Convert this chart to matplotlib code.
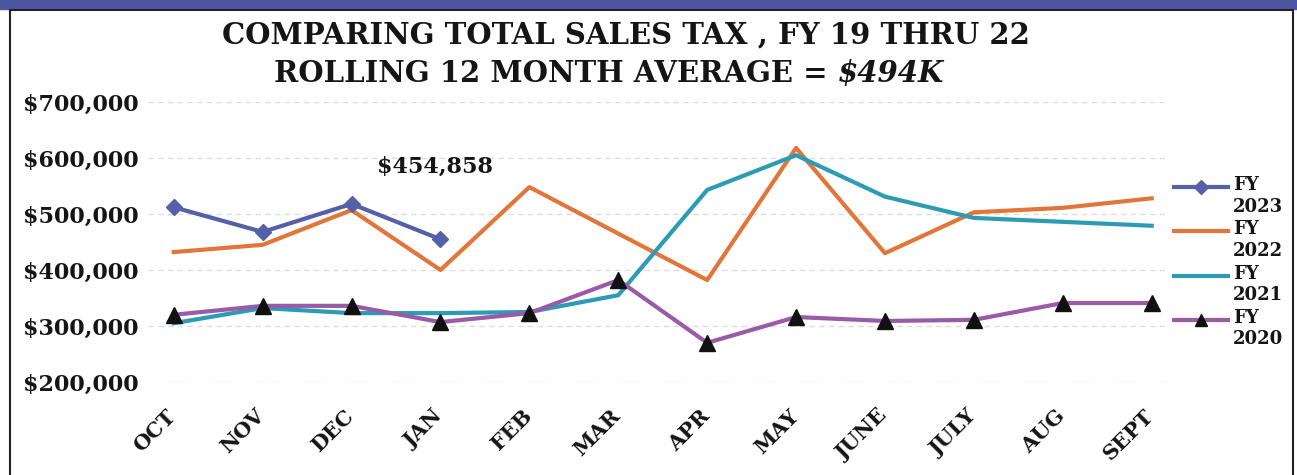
import matplotlib
matplotlib.use("Agg")
import matplotlib.pyplot as plt
import matplotlib.lines as mlines
import matplotlib.patches as mpatches
import matplotlib.transforms as mtransforms
from matplotlib.ticker import FuncFormatter

months = ['OCT', 'NOV', 'DEC', 'JAN', 'FEB', 'MAR', 'APR', 'MAY',
          'JUNE', 'JULY', 'AUG', 'SEPT']

fy2023 = [512000, 468000, 518000, 454858]
fy2022 = [432000, 445000, 507000, 400000, 548000, 465000, 382000, 618000,
          430000, 503000, 511000, 528000]
fy2021 = [305000, 332000, 323000, 323000, 325000, 355000, 543000, 605000,
          531000, 493000, 486000, 479000]
fy2020 = [320000, 336000, 336000, 307000, 323000, 382000, 270000, 316000,
          309000, 311000, 341000, 341000]

series_names = ['FY\n2023', 'FY\n2022', 'FY\n2021', 'FY\n2020']

c23 = '#5460a8'
c22 = '#e2763a'
c21 = '#2b9cb3'
c20 = '#9b5aa8'
ink = '#151515'

W, H = 1297, 475
fig = plt.figure(figsize=(W / 100, H / 100), dpi=100)

def fp(x, y):
    # pixel position -> figure fraction
    return x / W, 1 - y / H

# scanned page frame
fig.patches.append(mpatches.Rectangle(fp(0, 9), 1, 9 / H, transform=fig.transFigure,
                                      color='#4c55a0', zorder=0))
fig.patches.append(mpatches.Rectangle(fp(10, 560), 1283 / W, 550 / H,
                                      transform=fig.transFigure, fill=False,
                                      edgecolor='#222222', lw=1.5, zorder=1))

ax = fig.add_axes([148 / W, 1 - 382 / H, (1165 - 148) / W, 280 / H])
x = list(range(len(months)))

ax.plot(x, fy2022, color=c22, lw=3, zorder=3)
ax.plot(x, fy2021, color=c21, lw=3, zorder=3)
ax.plot(x, fy2020, color=c20, lw=3, zorder=4, marker='^', ms=11,
        mfc='#111111', mec='#111111')
ax.plot(x[:len(fy2023)], fy2023, color=c23, lw=3, zorder=5, marker='D', ms=8,
        mfc=c23, mec=c23)

ax.annotate('$454,858', xy=(3, fy2023[3]), xytext=(-4, 52), textcoords='offset points',
            ha='center', va='center', fontsize=16, fontweight='bold',
            family='DejaVu Serif', color=ink)

ax.set_ylim(200000, 700000)
ax.set_yticks(range(200000, 700001, 100000))
ax.yaxis.set_major_formatter(FuncFormatter(lambda v, p: '${:,.0f}'.format(v)))
ax.set_xlim(-0.29, 11.15)
ax.set_xticks(x)
ax.set_xticklabels(months)

for sp in ax.spines.values():
    sp.set_visible(False)
ax.tick_params(length=0)
ax.tick_params(axis='y', pad=7)
ax.tick_params(axis='x', pad=17)
ax.grid(axis='y', color='#dddddd', ls=(0, (4, 3)), lw=1)

for lab in ax.get_yticklabels():
    lab.set_family('DejaVu Serif')
    lab.set_fontweight('bold')
    lab.set_fontsize(16)
    lab.set_color(ink)

shift = mtransforms.ScaledTranslation(-8 / 100, 0, fig.dpi_scale_trans)
for lab in ax.get_xticklabels():
    lab.set_family('DejaVu Serif')
    lab.set_fontweight('bold')
    lab.set_fontsize(15)
    lab.set_color(ink)
    lab.set_rotation(45)
    lab.set_ha('right')
    lab.set_va('top')
    lab.set_rotation_mode('anchor')
    lab.set_transform(lab.get_transform() + shift)

# title
fig.text(626 / W, 1 - 35 / H, 'COMPARING TOTAL SALES TAX , FY 19 THRU 22',
         ha='center', va='center', fontsize=21, fontweight='bold',
         family='DejaVu Serif', color=ink)
t2 = fig.text(274 / W, 1 - 74 / H, 'ROLLING 12 MONTH AVERAGE = ',
              ha='left', va='center', fontsize=21, fontweight='bold',
              family='DejaVu Serif', color=ink)
ax.annotate('$494K', xy=(1, 0.5), xycoords=t2, ha='left', va='center',
            fontsize=21, fontweight='bold', style='italic',
            family='DejaVu Serif', color=ink)

# legend drawn by hand, handle level with the "FY" line
leg_y = [187, 231, 276, 320]
leg_style = [dict(color=c23, marker='D', ms=7, mfc=c23, mec=c23),
             dict(color=c22),
             dict(color=c21),
             dict(color=c20, marker='^', ms=9, mfc='#111111', mec='#111111')]
for yy, name, st in zip(leg_y, series_names, leg_style):
    x0, y0 = fp(1174, yy)
    x1, _ = fp(1228, yy)
    fig.add_artist(mlines.Line2D([x0, (x0 + x1) / 2, x1], [y0, y0, y0], lw=3,
                                 markevery=[1], transform=fig.transFigure, **st))
    fig.text(*fp(1233, yy - 11), name, ha='left', va='top', fontsize=13,
             fontweight='bold', family='DejaVu Serif', color=ink,
             linespacing=1.25)

fig.savefig('out.png', dpi=100)
